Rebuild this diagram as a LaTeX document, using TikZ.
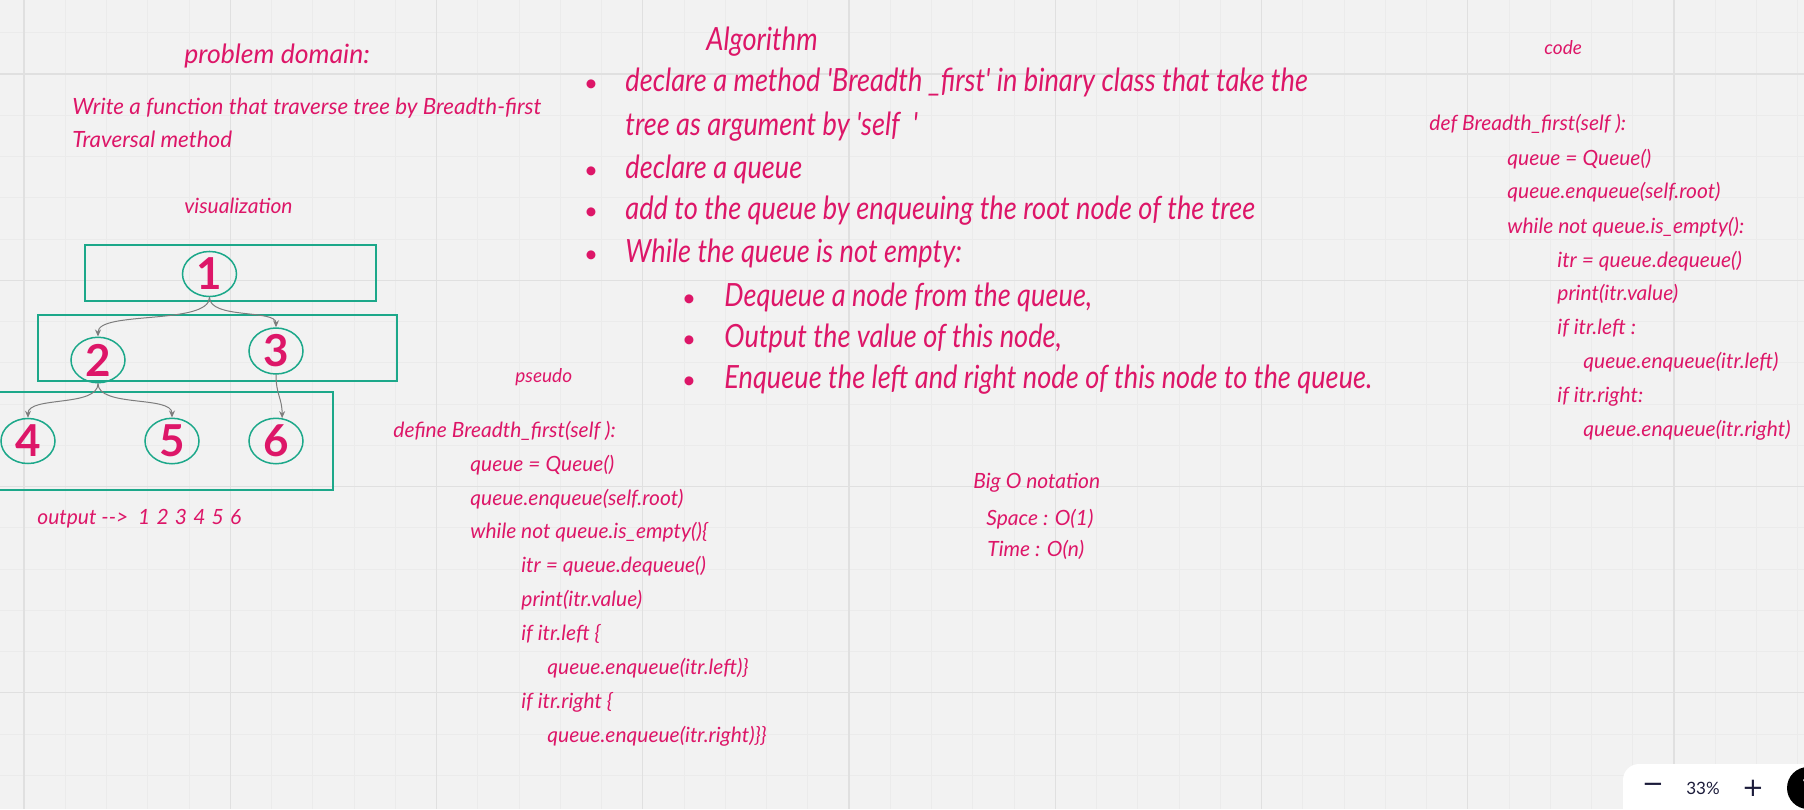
\documentclass[tikz,border=0pt]{standalone}
\usepackage{fontspec}
\setmainfont{Lato}
\newfontfamily\narrowhand[FakeStretch=0.85]{Lato}
\newfontfamily\uifont{DejaVu Sans}
\usepackage{xcolor}
\definecolor{inkpink}{RGB}{221, 22, 104}
\definecolor{boxteal}{RGB}{28, 168, 138}
\definecolor{arrowgrey}{RGB}{125, 125, 125}
\definecolor{paper}{RGB}{242, 242, 242}
\definecolor{gridminor}{RGB}{235, 235, 235}
\definecolor{gridmajor}{RGB}{224, 224, 224}
\definecolor{uinavy}{RGB}{27, 27, 58}
\usepackage{tikz}
\usetikzlibrary{arrows.meta, positioning, shapes.geometric}

\newcommand{\digitgap}{\hspace{3.1pt}}

\tikzset{
    handtext/.style={text=inkpink, anchor=west, inner sep=0pt, text height=0.75em, text depth=0.25em,
        font=\itshape\fontsize{10.5}{12}\selectfont},
    labeltext/.style={handtext, font=\itshape\fontsize{9.5}{11}\selectfont},
    tasktext/.style={handtext, font=\itshape\fontsize{11.2}{13}\selectfont},
    headtext/.style={handtext, font=\itshape\fontsize{13.3}{15}\selectfont},
    algtext/.style={handtext, font=\narrowhand\itshape\fontsize{16}{18}\selectfont},
    algbullet/.style={text=inkpink, inner sep=0pt, font=\fontsize{12}{12}\selectfont},
    treenode/.style={ellipse, draw=boxteal, line width=0.75pt, minimum width=27pt, minimum height=21pt,
        inner sep=0pt, text=inkpink, font=\bfseries\fontsize{22}{22}\selectfont},
    levelbox/.style={draw=boxteal, line width=0.75pt},
    childedge/.style={arrowgrey, line width=0.5pt, -{Stealth[length=3.5pt,width=3pt]}},
}

\begin{document}
\begin{tikzpicture}[x=0.5pt, y=-0.5pt, >=Stealth]
    \useasboundingbox (0,0) rectangle (1804,809);
    \clip (0,0) rectangle (1804,809);
    \fill[paper] (0,0) rectangle (1804,809);

    % grid
    \foreach \i in {0,...,43}
        \draw[gridminor, line width=0.5pt] ({24+41.25*\i},0) -- ({24+41.25*\i},809);
    \foreach \i in {0,...,18}
        \draw[gridminor, line width=0.5pt] (0,{32.75+41.25*\i}) -- (1804,{32.75+41.25*\i});
    \foreach \i in {0,...,8}
        \draw[gridmajor, line width=0.6pt] ({24+206.25*\i},0) -- ({24+206.25*\i},809);
    \foreach \i in {0,...,3}
        \draw[gridmajor, line width=0.6pt] (0,{74+206.25*\i}) -- (1804,{74+206.25*\i});

    % problem domain
    \node[headtext] (domain) at (184,58) {problem domain:};
    \node[tasktext] (task1) at (72,109) {Write a function that traverse tree by Breadth-first};
    \node[tasktext] (task2) at (72,142) {Traversal method};
    \node[handtext] (vis) at (184,208) {visualization};

    % tree, one box per level
    \draw[levelbox] (85,245) rectangle (376,301);
    \draw[levelbox] (38,315) rectangle (397,381);
    \draw[levelbox] (-10,392) rectangle (333,490);

    \node[treenode] (n1) at (209.5,274) {1};
    \node[treenode] (n2) at (98,360) {2};
    \node[treenode] (n3) at (276,351) {3};
    \node[treenode] (n4) at (28,441) {4};
    \node[treenode] (n5) at (172,441) {5};
    \node[treenode] (n6) at (276,441) {6};

    \draw[childedge] (n1.south) .. controls +(0,28) and +(0,-26) .. (n2.north);
    \draw[childedge] (n1.south) .. controls +(0,22) and +(0,-18) .. (n3.north);
    \draw[childedge] (n2.south) .. controls +(0,24) and +(0,-22) .. (n4.north);
    \draw[childedge] (n2.south) .. controls +(0,24) and +(0,-22) .. (n5.north);
    \draw[childedge] (n3.south) .. controls +(0,20) and +(0,-20) .. (n6.75);

    \node[handtext] (output) at (37,519)
        {output {-}{-}> \ 1\digitgap 2\digitgap 3\digitgap 4\digitgap 5\digitgap 6};

    % algorithm
    \node[algtext] (alghead) at (706,45) {Algorithm};
    \node[algbullet] (b1) at (591,86) {\textbullet};
    \node[algtext] (alg1) at (625,86) {declare a method 'Breadth \_first' in binary class that take the};
    \node[algtext] (alg1b) at (625,130) {tree as argument by 'self \ '};
    \node[algbullet] (b2) at (591,173) {\textbullet};
    \node[algtext] (alg2) at (625,173) {declare a queue};
    \node[algbullet] (b3) at (591,214) {\textbullet};
    \node[algtext] (alg3) at (625,214) {add to the queue by enqueuing the root node of the tree};
    \node[algbullet] (b4) at (591,257) {\textbullet};
    \node[algtext] (alg4) at (625,257) {While the queue is not empty:};
    \node[algbullet] (b5) at (689,301) {\textbullet};
    \node[algtext] (alg5) at (724,301) {Dequeue a node from the queue,};
    \node[algbullet] (b6) at (689,342) {\textbullet};
    \node[algtext] (alg6) at (724,342) {Output the value of this node,};
    \node[algbullet] (b7) at (689,383) {\textbullet};
    \node[algtext] (alg7) at (724,383) {Enqueue the left and right node of this node to the queue.};

    % pseudo code
    \node[labeltext] (pseudo) at (515,377) {pseudo};
    \node[handtext] (ps1) at (393,432) {define Breadth\_first(self ):};
    \node[handtext] (ps2) at (470,466) {queue = Queue()};
    \node[handtext] (ps3) at (470,500) {queue.enqueue(self.root)};
    \node[handtext] (ps4) at (470,533) {while not queue.is\_empty()\{};
    \node[handtext] (ps5) at (521,567) {itr = queue.dequeue()};
    \node[handtext] (ps6) at (521,601) {print(itr.value)};
    \node[handtext] (ps7) at (521,635) {if itr.left \{};
    \node[handtext] (ps8) at (547,669) {queue.enqueue(itr.left)\}};
    \node[handtext] (ps9) at (521,703) {if itr.right \{};
    \node[handtext] (ps10) at (547,737) {queue.enqueue(itr.right)\}\}};

    % big o
    \node[handtext] (bigo) at (973,483) {Big O notation};
    \node[handtext] (space) at (986,520) {Space : O(1)};
    \node[handtext] (time) at (987,551) {Time : O(n)};

    % python code
    \node[labeltext] (code) at (1544,49) {code};
    \node[handtext] (py1) at (1429,125) {def Breadth\_first(self ):};
    \node[handtext] (py2) at (1507,160) {queue = Queue()};
    \node[handtext] (py3) at (1507,193) {queue.enqueue(self.root)};
    \node[handtext] (py4) at (1507,228) {while not queue.is\_empty():};
    \node[handtext] (py5) at (1557,262) {itr = queue.dequeue()};
    \node[handtext] (py6) at (1557,295) {print(itr.value)};
    \node[handtext] (py7) at (1557,329) {if itr.left :};
    \node[handtext] (py8) at (1583,363) {queue.enqueue(itr.left)};
    \node[handtext] (py9) at (1557,397) {if itr.right:};
    \node[handtext] (py10) at (1583,431) {queue.enqueue(itr.right)};

    % zoom widget
    \fill[white, rounded corners=8pt] (1623,764) rectangle (1840,840);
    \node[text=uinavy, font=\uifont\fontsize{13}{13}\selectfont] (zoomout) at (1653,788) {−};
    \node[text=uinavy, font=\fontsize{8.5}{9}\selectfont] (zoomval) at (1703,788) {33\%};
    \node[text=uinavy, font=\uifont\fontsize{13}{13}\selectfont] (zoomin) at (1753,788) {+};
    \node[circle, fill=black, minimum size=21pt, inner sep=0pt, text=white,
        font=\bfseries\fontsize{13}{13}\selectfont] (help) at (1808,788) {?};
\end{tikzpicture}
\end{document}
